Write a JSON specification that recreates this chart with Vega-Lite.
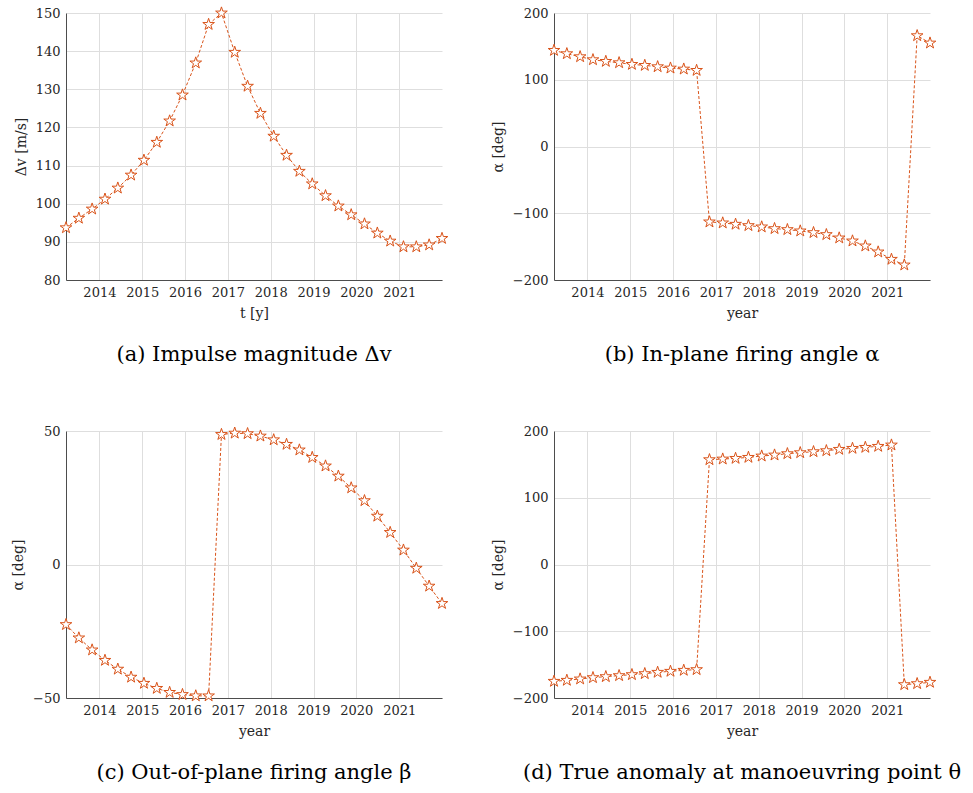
{
  "$schema": "https://vega.github.io/schema/vega-lite/v6.json",
  "background": "white",
  "padding": {"left": 11, "top": 4, "right": 5, "bottom": 5},
  "datasets": {
    "traj": [
      {"t": 2013.22, "dv": 93.7, "alpha": 144, "beta": -22.5, "theta": -175},
      {"t": 2013.52, "dv": 96.2, "alpha": 139, "beta": -27.5, "theta": -173.5},
      {"t": 2013.83, "dv": 98.6, "alpha": 134.5, "beta": -32, "theta": -171.5},
      {"t": 2014.13, "dv": 101.2, "alpha": 130, "beta": -35.9, "theta": -169.5},
      {"t": 2014.43, "dv": 104.1, "alpha": 127.5, "beta": -39.2, "theta": -168},
      {"t": 2014.74, "dv": 107.5, "alpha": 125.5, "beta": -42.2, "theta": -166.5},
      {"t": 2015.04, "dv": 111.4, "alpha": 123, "beta": -44.5, "theta": -165},
      {"t": 2015.34, "dv": 116.1, "alpha": 121.5, "beta": -46.4, "theta": -163.5},
      {"t": 2015.64, "dv": 121.7, "alpha": 119.5, "beta": -47.9, "theta": -161.5},
      {"t": 2015.94, "dv": 128.5, "alpha": 117.5, "beta": -48.7, "theta": -160},
      {"t": 2016.25, "dv": 136.9, "alpha": 116, "beta": -49.2, "theta": -158.5},
      {"t": 2016.55, "dv": 147.0, "alpha": 114, "beta": -49.2, "theta": -157.5},
      {"t": 2016.85, "dv": 150.0, "alpha": -113, "beta": 48.7, "theta": 157},
      {"t": 2017.16, "dv": 139.7, "alpha": -114.5, "beta": 49.2, "theta": 158},
      {"t": 2017.46, "dv": 130.8, "alpha": -116.5, "beta": 49, "theta": 159},
      {"t": 2017.76, "dv": 123.7, "alpha": -118.5, "beta": 48.1, "theta": 160.5},
      {"t": 2018.07, "dv": 117.7, "alpha": -120.5, "beta": 46.7, "theta": 162.5},
      {"t": 2018.37, "dv": 112.7, "alpha": -123, "beta": 45, "theta": 164},
      {"t": 2018.67, "dv": 108.5, "alpha": -124.5, "beta": 42.9, "theta": 166},
      {"t": 2018.97, "dv": 105.2, "alpha": -126.5, "beta": 40.1, "theta": 167.5},
      {"t": 2019.28, "dv": 102.1, "alpha": -129, "beta": 36.9, "theta": 169},
      {"t": 2019.58, "dv": 99.4, "alpha": -132, "beta": 33.1, "theta": 170.5},
      {"t": 2019.88, "dv": 97.1, "alpha": -137, "beta": 28.7, "theta": 172.5},
      {"t": 2020.19, "dv": 94.7, "alpha": -141.5, "beta": 23.9, "theta": 174},
      {"t": 2020.49, "dv": 92.3, "alpha": -149, "beta": 18.1, "theta": 175.5},
      {"t": 2020.79, "dv": 90.2, "alpha": -158, "beta": 12, "theta": 177},
      {"t": 2021.10, "dv": 88.7, "alpha": -169, "beta": 5.4, "theta": 179},
      {"t": 2021.40, "dv": 88.7, "alpha": -177.5, "beta": -1.4, "theta": -180},
      {"t": 2021.70, "dv": 89.2, "alpha": 166, "beta": -8.1, "theta": -178.5},
      {"t": 2022.00, "dv": 90.9, "alpha": 155, "beta": -14.6, "theta": -176.5}
    ]
  },
  "columns": 2,
  "spacing": {"column": 41, "row": 60},
  "concat": [
    {
      "width": 376, "height": 267,
      "data": {"name": "traj"},
      "title": {"text": "(a) Impulse magnitude Δv"},
      "encoding": {
        "x": {"field": "t", "type": "quantitative", "scale": {"domain": [2013.22, 2022.0], "nice": false, "zero": false},
              "axis": {"title": "t [y]", "values": [2014, 2015, 2016, 2017, 2018, 2019, 2020, 2021], "format": "d"}},
        "y": {"field": "dv", "type": "quantitative", "scale": {"domain": [80, 150], "nice": false, "zero": false},
              "axis": {"title": "Δv [m/s]", "values": [80, 90, 100, 110, 120, 130, 140, 150]}}
      },
      "layer": [
        {"mark": {"type": "line", "color": "#D95319", "strokeWidth": 1, "strokeDash": [3, 2]}},
        {"mark": {"type": "point", "shape": "M0,-1L0.2245,-0.309L0.951,-0.309L0.3633,0.118L0.588,0.809L0,0.382L-0.588,0.809L-0.3633,0.118L-0.951,-0.309L-0.2245,-0.309Z", "size": 150, "filled": true, "fill": "white", "stroke": "#D95319", "strokeWidth": 1, "opacity": 1}}
      ]
    },
    {
      "width": 376, "height": 267,
      "data": {"name": "traj"},
      "title": {"text": "(b) In-plane firing angle α"},
      "encoding": {
        "x": {"field": "t", "type": "quantitative", "scale": {"domain": [2013.22, 2022.0], "nice": false, "zero": false},
              "axis": {"title": "year", "values": [2014, 2015, 2016, 2017, 2018, 2019, 2020, 2021], "format": "d"}},
        "y": {"field": "alpha", "type": "quantitative", "scale": {"domain": [-200, 200], "nice": false, "zero": false},
              "axis": {"title": "α [deg]", "values": [-200, -100, 0, 100, 200]}}
      },
      "layer": [
        {"mark": {"type": "line", "color": "#D95319", "strokeWidth": 1, "strokeDash": [3, 2]}},
        {"mark": {"type": "point", "shape": "M0,-1L0.2245,-0.309L0.951,-0.309L0.3633,0.118L0.588,0.809L0,0.382L-0.588,0.809L-0.3633,0.118L-0.951,-0.309L-0.2245,-0.309Z", "size": 150, "filled": true, "fill": "white", "stroke": "#D95319", "strokeWidth": 1, "opacity": 1}}
      ]
    },
    {
      "width": 376, "height": 267,
      "data": {"name": "traj"},
      "title": {"text": "(c) Out-of-plane firing angle β"},
      "encoding": {
        "x": {"field": "t", "type": "quantitative", "scale": {"domain": [2013.22, 2022.0], "nice": false, "zero": false},
              "axis": {"title": "year", "values": [2014, 2015, 2016, 2017, 2018, 2019, 2020, 2021], "format": "d"}},
        "y": {"field": "beta", "type": "quantitative", "scale": {"domain": [-50, 50], "nice": false, "zero": false},
              "axis": {"title": "α [deg]", "values": [-50, 0, 50]}}
      },
      "layer": [
        {"mark": {"type": "line", "color": "#D95319", "strokeWidth": 1, "strokeDash": [3, 2]}},
        {"mark": {"type": "point", "shape": "M0,-1L0.2245,-0.309L0.951,-0.309L0.3633,0.118L0.588,0.809L0,0.382L-0.588,0.809L-0.3633,0.118L-0.951,-0.309L-0.2245,-0.309Z", "size": 150, "filled": true, "fill": "white", "stroke": "#D95319", "strokeWidth": 1, "opacity": 1}}
      ]
    },
    {
      "width": 376, "height": 267,
      "data": {"name": "traj"},
      "title": {"text": "(d) True anomaly at manoeuvring point θ"},
      "encoding": {
        "x": {"field": "t", "type": "quantitative", "scale": {"domain": [2013.22, 2022.0], "nice": false, "zero": false},
              "axis": {"title": "year", "values": [2014, 2015, 2016, 2017, 2018, 2019, 2020, 2021], "format": "d"}},
        "y": {"field": "theta", "type": "quantitative", "scale": {"domain": [-200, 200], "nice": false, "zero": false},
              "axis": {"title": "α [deg]", "values": [-200, -100, 0, 100, 200]}}
      },
      "layer": [
        {"mark": {"type": "line", "color": "#D95319", "strokeWidth": 1, "strokeDash": [3, 2]}},
        {"mark": {"type": "point", "shape": "M0,-1L0.2245,-0.309L0.951,-0.309L0.3633,0.118L0.588,0.809L0,0.382L-0.588,0.809L-0.3633,0.118L-0.951,-0.309L-0.2245,-0.309Z", "size": 150, "filled": true, "fill": "white", "stroke": "#D95319", "strokeWidth": 1, "opacity": 1}}
      ]
    }
  ],
  "config": {
    "view": {"stroke": null},
    "font": "DejaVu Serif",
    "title": {"orient": "bottom", "anchor": "middle", "frame": "group", "font": "DejaVu Serif", "fontSize": 21, "fontWeight": "normal", "color": "#000000", "offset": 24},
    "axis": {
      "labelFont": "DejaVu Serif", "labelFontSize": 13, "labelColor": "#262626",
      "titleFont": "DejaVu Serif", "titleFontSize": 14, "titleFontWeight": "normal", "titleColor": "#262626",
      "domainColor": "#4d4d4d", "domainWidth": 1,
      "gridColor": "#dedede", "gridWidth": 1,
      "ticks": false, "labelPadding": 6, "titlePadding": 7, "labelFlush": false, "labelOverlap": false
    }
  }
}
